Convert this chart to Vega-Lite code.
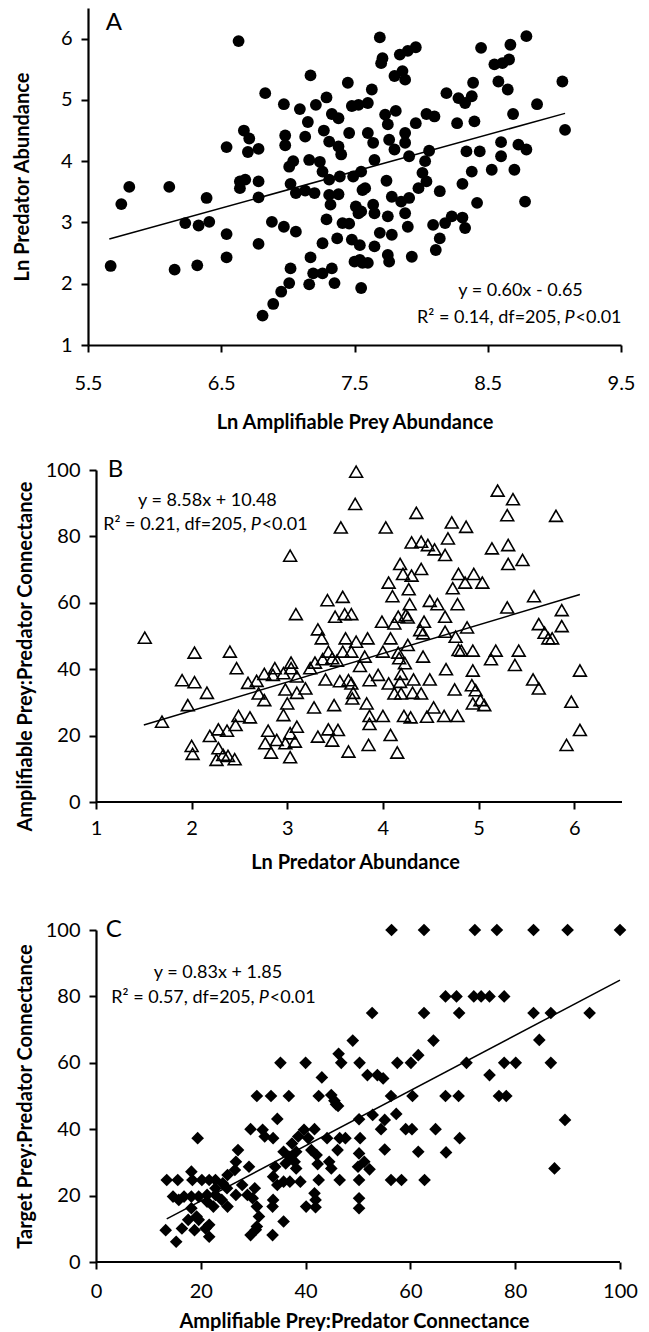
{
  "$schema": "https://vega.github.io/schema/vega-lite/v6.json",
  "background": "white",
  "padding": {"left": 12, "top": 8, "right": 4, "bottom": 0},
  "config": {
    "view": {"stroke": null},
    "font": "Lato",
    "axis": {
      "grid": false,
      "domainColor": "black",
      "domainWidth": 2.2,
      "tickColor": "black",
      "tickWidth": 2,
      "tickSize": 7,
      "labelFont": "Lato",
      "labelFontSize": 20,
      "labelColor": "black",
      "labelPadding": 9,
      "labelFlush": false,
      "labelOverlap": false,
      "titleFont": "Lato",
      "titleFontSize": 20,
      "titleFontWeight": "bold",
      "titleColor": "black",
      "titlePadding": 10
    },
    "text": {"font": "Lato", "fontSize": 18, "color": "black"}
  },
  "datasets": {
    "A": [
      {"x":6.63,"y":5.96},{"x":7.17,"y":5.40},{"x":7.45,"y":5.28},{"x":6.83,"y":5.11},{"x":6.97,"y":4.93},{"x":7.09,"y":4.85},{"x":7.21,"y":4.92},{"x":7.29,"y":5.04},{"x":7.15,"y":4.64},{"x":7.33,"y":4.77},{"x":7.38,"y":4.70},{"x":7.48,"y":4.90},{"x":7.53,"y":4.92},{"x":6.98,"y":4.42},{"x":6.98,"y":4.26},{"x":7.13,"y":4.40},{"x":7.27,"y":4.50},{"x":7.31,"y":4.32},{"x":7.38,"y":4.24},{"x":7.46,"y":4.46},{"x":7.40,"y":4.11},{"x":6.67,"y":4.50},{"x":6.71,"y":4.37},{"x":6.54,"y":4.23},{"x":6.70,"y":4.15},{"x":6.78,"y":4.20},{"x":7.04,"y":4.00},{"x":7.01,"y":3.91},{"x":7.16,"y":4.02},{"x":7.24,"y":3.99},{"x":7.26,"y":3.83},{"x":7.31,"y":3.70},{"x":7.39,"y":3.75},{"x":7.49,"y":3.75},{"x":7.55,"y":3.83},{"x":6.64,"y":3.67},{"x":6.68,"y":3.70},{"x":6.64,"y":3.56},{"x":6.78,"y":3.67},{"x":6.78,"y":3.41},{"x":7.02,"y":3.63},{"x":7.06,"y":3.48},{"x":7.13,"y":3.52},{"x":7.20,"y":3.48},{"x":7.31,"y":3.45},{"x":7.38,"y":3.46},{"x":7.32,"y":3.29},{"x":7.51,"y":3.26},{"x":7.56,"y":3.53},{"x":5.81,"y":3.58},{"x":6.11,"y":3.58},{"x":5.75,"y":3.30},{"x":6.39,"y":3.40},{"x":6.23,"y":2.99},{"x":6.33,"y":2.95},{"x":6.41,"y":3.01},{"x":6.54,"y":2.81},{"x":6.88,"y":3.01},{"x":6.97,"y":2.93},{"x":7.06,"y":2.85},{"x":7.29,"y":3.05},{"x":7.41,"y":2.99},{"x":7.46,"y":2.98},{"x":7.53,"y":3.15},{"x":6.78,"y":2.65},{"x":7.26,"y":2.66},{"x":7.37,"y":2.74},{"x":7.48,"y":2.72},{"x":5.67,"y":2.29},{"x":6.15,"y":2.23},{"x":6.32,"y":2.30},{"x":6.54,"y":2.43},{"x":7.17,"y":2.43},{"x":7.50,"y":2.36},{"x":7.56,"y":2.34},{"x":7.02,"y":2.25},{"x":7.19,"y":2.17},{"x":7.26,"y":2.17},{"x":7.33,"y":2.25},{"x":7.35,"y":2.01},{"x":7.16,"y":1.99},{"x":7.01,"y":2.01},{"x":6.95,"y":1.87},{"x":6.89,"y":1.67},{"x":6.81,"y":1.48},{"x":7.55,"y":1.93},
      {"x":7.69,"y":6.02},{"x":8.79,"y":6.04},{"x":7.71,"y":5.68},{"x":7.70,"y":5.60},{"x":7.84,"y":5.74},{"x":7.90,"y":5.80},{"x":7.96,"y":5.86},{"x":8.45,"y":5.85},{"x":8.67,"y":5.90},{"x":7.80,"y":5.39},{"x":7.86,"y":5.47},{"x":7.88,"y":5.33},{"x":8.55,"y":5.58},{"x":8.61,"y":5.60},{"x":8.66,"y":5.66},{"x":8.58,"y":5.30},{"x":8.65,"y":5.17},{"x":9.06,"y":5.30},{"x":7.63,"y":5.17},{"x":7.60,"y":4.95},{"x":8.19,"y":5.11},{"x":8.28,"y":5.03},{"x":8.33,"y":4.95},{"x":8.38,"y":5.06},{"x":8.39,"y":5.28},{"x":8.87,"y":4.93},{"x":7.81,"y":4.82},{"x":7.73,"y":4.76},{"x":7.75,"y":4.60},{"x":7.96,"y":4.62},{"x":8.04,"y":4.77},{"x":8.10,"y":4.73},{"x":8.27,"y":4.62},{"x":8.40,"y":4.65},{"x":8.69,"y":4.77},{"x":9.08,"y":4.51},{"x":7.60,"y":4.46},{"x":7.88,"y":4.46},{"x":7.76,"y":4.35},{"x":7.80,"y":4.19},{"x":7.88,"y":4.30},{"x":7.64,"y":4.30},{"x":7.65,"y":4.02},{"x":7.91,"y":4.08},{"x":8.06,"y":4.17},{"x":8.03,"y":4.00},{"x":8.34,"y":4.16},{"x":8.44,"y":4.16},{"x":8.60,"y":4.31},{"x":8.60,"y":4.08},{"x":8.73,"y":4.27},{"x":8.79,"y":4.19},{"x":8.38,"y":3.83},{"x":8.53,"y":3.86},{"x":8.70,"y":3.86},{"x":8.01,"y":3.81},{"x":8.04,"y":3.67},{"x":7.74,"y":3.68},{"x":7.58,"y":3.56},{"x":7.98,"y":3.56},{"x":8.31,"y":3.63},{"x":8.14,"y":3.51},{"x":7.78,"y":3.42},{"x":7.91,"y":3.40},{"x":7.85,"y":3.34},{"x":8.42,"y":3.32},{"x":8.78,"y":3.34},{"x":7.64,"y":3.29},{"x":7.55,"y":3.18},{"x":7.65,"y":3.15},{"x":7.75,"y":3.10},{"x":7.88,"y":3.15},{"x":8.23,"y":3.10},{"x":8.31,"y":3.08},{"x":8.18,"y":2.99},{"x":8.09,"y":2.96},{"x":8.33,"y":2.91},{"x":7.90,"y":2.93},{"x":7.69,"y":2.83},{"x":7.78,"y":2.80},{"x":8.14,"y":2.74},{"x":7.54,"y":2.63},{"x":7.65,"y":2.61},{"x":8.11,"y":2.55},{"x":7.75,"y":2.47},{"x":7.76,"y":2.36},{"x":7.93,"y":2.44},{"x":7.60,"y":2.34},{"x":7.54,"y":2.39}
    ],
    "B": [
      {"x":1.51,"y":49.5},{"x":1.69,"y":24.2},{"x":2.03,"y":45.0},{"x":1.90,"y":36.7},{"x":2.03,"y":36.1},{"x":2.16,"y":32.9},{"x":1.96,"y":29.2},{"x":2.00,"y":16.9},{"x":2.01,"y":14.5},{"x":2.19,"y":19.9},{"x":2.28,"y":21.9},{"x":2.37,"y":21.5},{"x":2.28,"y":16.2},{"x":2.26,"y":12.7},{"x":2.33,"y":14.2},{"x":2.38,"y":13.9},{"x":2.45,"y":12.9},{"x":2.40,"y":45.3},{"x":2.47,"y":40.3},{"x":2.46,"y":23.2},{"x":2.49,"y":25.9},{"x":2.61,"y":25.5},{"x":2.59,"y":35.9},{"x":2.68,"y":36.5},{"x":2.70,"y":32.7},{"x":2.76,"y":30.7},{"x":2.76,"y":38.6},{"x":2.87,"y":40.3},{"x":2.85,"y":38.3},{"x":2.80,"y":21.5},{"x":2.77,"y":17.7},{"x":2.83,"y":14.9},{"x":2.89,"y":18.7},{"x":2.96,"y":26.2},{"x":3.00,"y":29.7},{"x":2.98,"y":33.9},{"x":2.96,"y":38.8},{"x":3.04,"y":42.0},{"x":3.04,"y":40.3},{"x":3.10,"y":37.8},{"x":3.10,"y":32.9},{"x":3.03,"y":13.5},{"x":2.98,"y":17.7},{"x":3.03,"y":20.7},{"x":3.10,"y":22.7},{"x":3.08,"y":18.2},{"x":3.19,"y":34.2},{"x":3.03,"y":74.2},{"x":3.09,"y":56.6},{"x":3.28,"y":28.5},{"x":3.32,"y":19.7},{"x":3.43,"y":21.9},{"x":3.53,"y":21.7},{"x":3.47,"y":18.5},{"x":3.64,"y":15.2},{"x":3.49,"y":29.2},{"x":3.40,"y":36.9},{"x":3.55,"y":36.4},{"x":3.64,"y":36.7},{"x":3.69,"y":32.9},{"x":3.68,"y":31.2},{"x":3.67,"y":35.7},{"x":3.24,"y":40.3},{"x":3.29,"y":42.0},{"x":3.37,"y":43.0},{"x":3.47,"y":43.3},{"x":3.52,"y":42.6},{"x":3.32,"y":52.0},{"x":3.36,"y":49.3},{"x":3.43,"y":45.3},{"x":3.58,"y":45.3},{"x":3.61,"y":49.3},{"x":3.67,"y":45.3},{"x":3.72,"y":48.3},{"x":3.42,"y":60.8},{"x":3.58,"y":61.8},{"x":3.50,"y":55.8},{"x":3.60,"y":56.6},{"x":3.67,"y":56.6},{"x":3.56,"y":82.7},{"x":3.71,"y":89.8},{"x":3.72,"y":99.5},{"x":3.76,"y":41.0},
      {"x":4.03,"y":82.7},{"x":4.35,"y":87.1},{"x":5.20,"y":93.8},{"x":5.36,"y":91.2},{"x":5.30,"y":86.4},{"x":5.81,"y":86.2},{"x":4.72,"y":84.2},{"x":4.87,"y":82.9},{"x":4.30,"y":78.2},{"x":4.40,"y":78.4},{"x":4.47,"y":77.4},{"x":4.54,"y":76.1},{"x":4.65,"y":74.4},{"x":4.68,"y":79.4},{"x":5.14,"y":76.4},{"x":5.31,"y":77.4},{"x":5.31,"y":71.7},{"x":5.46,"y":72.9},{"x":4.18,"y":71.7},{"x":4.21,"y":68.7},{"x":4.30,"y":68.2},{"x":4.40,"y":70.2},{"x":4.06,"y":66.1},{"x":4.10,"y":62.0},{"x":4.27,"y":64.1},{"x":4.79,"y":68.7},{"x":4.95,"y":68.7},{"x":5.04,"y":66.1},{"x":4.86,"y":66.1},{"x":4.73,"y":64.4},{"x":5.58,"y":62.0},{"x":4.28,"y":59.6},{"x":4.49,"y":60.6},{"x":4.57,"y":59.6},{"x":4.65,"y":55.8},{"x":4.78,"y":59.6},{"x":4.24,"y":56.3},{"x":4.26,"y":55.6},{"x":4.16,"y":55.8},{"x":3.99,"y":54.3},{"x":4.12,"y":53.8},{"x":4.43,"y":54.3},{"x":4.39,"y":51.8},{"x":4.42,"y":50.8},{"x":4.65,"y":51.3},{"x":4.76,"y":49.8},{"x":4.88,"y":52.6},{"x":5.30,"y":58.6},{"x":5.87,"y":57.8},{"x":5.87,"y":53.0},{"x":5.63,"y":53.6},{"x":5.69,"y":51.0},{"x":5.73,"y":49.3},{"x":5.77,"y":49.3},{"x":3.84,"y":49.3},{"x":4.08,"y":49.3},{"x":3.81,"y":43.8},{"x":4.00,"y":45.3},{"x":4.16,"y":45.0},{"x":4.26,"y":47.3},{"x":4.23,"y":41.8},{"x":4.17,"y":43.3},{"x":4.42,"y":43.8},{"x":4.79,"y":45.8},{"x":4.82,"y":45.6},{"x":4.94,"y":45.6},{"x":5.18,"y":45.6},{"x":5.13,"y":43.0},{"x":5.42,"y":45.6},{"x":5.38,"y":41.3},{"x":3.86,"y":36.7},{"x":3.95,"y":38.3},{"x":4.06,"y":35.7},{"x":4.19,"y":38.6},{"x":4.18,"y":36.2},{"x":4.32,"y":36.9},{"x":4.49,"y":36.9},{"x":4.66,"y":40.0},{"x":4.94,"y":39.6},{"x":4.75,"y":33.9},{"x":4.93,"y":35.2},{"x":4.97,"y":33.7},{"x":5.57,"y":36.9},{"x":5.63,"y":34.2},{"x":6.06,"y":39.6},{"x":4.12,"y":32.7},{"x":4.19,"y":32.7},{"x":4.31,"y":32.9},{"x":4.40,"y":32.7},{"x":3.83,"y":29.7},{"x":4.94,"y":29.7},{"x":5.02,"y":30.7},{"x":5.06,"y":29.2},{"x":5.97,"y":30.2},{"x":3.86,"y":25.9},{"x":4.00,"y":25.9},{"x":4.22,"y":25.9},{"x":4.29,"y":25.5},{"x":4.46,"y":25.7},{"x":4.53,"y":28.5},{"x":4.64,"y":25.9},{"x":4.78,"y":25.9},{"x":3.86,"y":23.5},{"x":4.08,"y":20.2},{"x":3.85,"y":17.2},{"x":4.15,"y":14.9},{"x":5.92,"y":17.2},{"x":6.06,"y":21.7}
    ],
    "C": [
      {"x":56.4,"y":100},{"x":62.6,"y":100},{"x":72.3,"y":100},{"x":76.5,"y":100},{"x":83.5,"y":100},{"x":90.0,"y":100},{"x":100,"y":100},
      {"x":66.7,"y":80},{"x":68.8,"y":80},{"x":72.1,"y":80},{"x":73.5,"y":80},{"x":75.1,"y":80},{"x":77.9,"y":80},
      {"x":52.7,"y":75},{"x":62.6,"y":75},{"x":69.3,"y":75},{"x":83.5,"y":75},{"x":86.8,"y":75},{"x":94.2,"y":75},
      {"x":49.0,"y":66.7},{"x":64.4,"y":66.7},{"x":84.6,"y":66.9},
      {"x":50.3,"y":60},{"x":57.5,"y":60},{"x":60.1,"y":60},{"x":61.5,"y":62.3},{"x":70.7,"y":60},{"x":77.9,"y":60},{"x":80.1,"y":60},{"x":86.8,"y":60},{"x":35.2,"y":60},{"x":40.0,"y":60},{"x":46.3,"y":62.7},{"x":46.8,"y":60},
      {"x":51.8,"y":56.3},{"x":53.7,"y":56.3},{"x":54.8,"y":55.3},{"x":75.1,"y":56.3},{"x":43.1,"y":55.6},
      {"x":30.7,"y":50},{"x":33.4,"y":50},{"x":36.8,"y":50},{"x":42.5,"y":50},{"x":44.9,"y":50.3},{"x":45.8,"y":47.5},{"x":45.5,"y":48.6},{"x":46.2,"y":47.0},{"x":56.3,"y":50},{"x":60.4,"y":50},{"x":66.7,"y":50},{"x":69.2,"y":50},{"x":76.9,"y":50},{"x":78.3,"y":50},
      {"x":34.6,"y":43.1},{"x":29.5,"y":40.0},{"x":31.8,"y":39.8},{"x":32.2,"y":37.8},{"x":33.8,"y":37.3},{"x":29.2,"y":28.7},{"x":27.1,"y":33.7},{"x":26.7,"y":30.2},{"x":26.5,"y":27.7},{"x":25.1,"y":26.2},{"x":24.2,"y":23.7},{"x":22.8,"y":24.7},{"x":21.6,"y":24.7},{"x":20.2,"y":24.7},{"x":18.2,"y":27.2},{"x":18.4,"y":24.7},{"x":15.6,"y":24.7},{"x":13.5,"y":24.7},{"x":14.7,"y":19.7},{"x":15.8,"y":18.7},{"x":16.8,"y":19.7},{"x":18.2,"y":16.2},{"x":19.2,"y":13.7},{"x":19.4,"y":37.3},{"x":21.2,"y":20.2},{"x":22.8,"y":20.2},{"x":24.0,"y":18.7},{"x":21.2,"y":18.2},{"x":22.4,"y":16.7},{"x":25.1,"y":16.7},{"x":25.0,"y":22.2},{"x":26.7,"y":20.2},{"x":27.9,"y":23.2},{"x":28.9,"y":20.2},{"x":30.3,"y":22.2},{"x":29.9,"y":19.2},{"x":30.7,"y":16.7},{"x":31.1,"y":13.7},{"x":30.7,"y":10.7},{"x":29.5,"y":8.1},{"x":30.5,"y":9.7},{"x":33.7,"y":8.1},{"x":33.8,"y":18.7},{"x":33.7,"y":16.7},{"x":34.2,"y":28.7},{"x":33.8,"y":25.7},{"x":34.6,"y":23.2},{"x":35.8,"y":24.2},{"x":35.8,"y":33.2},{"x":37.0,"y":31.7},{"x":36.2,"y":29.7},{"x":37.9,"y":30.2},{"x":38.2,"y":28.2},{"x":38.2,"y":33.2},{"x":37.0,"y":24.2},{"x":39.0,"y":24.2},{"x":37.4,"y":35.7},{"x":38.6,"y":37.8},{"x":39.7,"y":39.8},{"x":41.7,"y":40.0},{"x":40.5,"y":37.3},{"x":41.1,"y":33.7},{"x":42.1,"y":32.2},{"x":42.3,"y":29.5},{"x":41.7,"y":20.7},{"x":41.9,"y":18.7},{"x":40.1,"y":16.7},{"x":41.9,"y":16.5},{"x":35.8,"y":12.2},{"x":42.5,"y":24.7},{"x":44.1,"y":37.3},{"x":44.5,"y":30.2},{"x":44.9,"y":28.2},{"x":46.1,"y":33.7},{"x":46.5,"y":37.3},{"x":46.5,"y":24.7},{"x":47.6,"y":37.3},{"x":50.4,"y":37.3},{"x":50.2,"y":32.7},{"x":50.0,"y":28.7},{"x":51.2,"y":30.2},{"x":52.2,"y":27.9},{"x":50.2,"y":24.7},{"x":50.2,"y":19.2},{"x":50.2,"y":16.2},{"x":50.2,"y":43.0},{"x":52.8,"y":44.3},{"x":54.4,"y":40.0},{"x":55.1,"y":42.8},{"x":55.1,"y":33.9},{"x":57.3,"y":44.6},{"x":56.3,"y":24.7},{"x":58.3,"y":24.7},{"x":59.1,"y":40.0},{"x":60.3,"y":40.0},{"x":61.5,"y":33.2},{"x":62.7,"y":24.7},{"x":64.8,"y":40.0},{"x":66.8,"y":33.0},{"x":69.4,"y":37.3},{"x":89.5,"y":42.8},{"x":87.5,"y":28.2},
      {"x":13.3,"y":9.6},{"x":15.3,"y":6.1},{"x":16.4,"y":10.1},{"x":17.6,"y":12.7},{"x":18.8,"y":9.6},{"x":19.6,"y":12.7},{"x":20.9,"y":10.1},{"x":21.6,"y":7.6},{"x":21.6,"y":11.2},{"x":18.2,"y":19.7},{"x":19.6,"y":19.7},{"x":22.8,"y":22.2}
    ],
    "regA": [{"x":5.66,"y":2.73},{"x":9.08,"y":4.78}],
    "regB": [{"x":1.5,"y":23.2},{"x":6.06,"y":62.5}],
    "regC": [{"x":13.5,"y":13.0},{"x":100,"y":84.9}]
  },
  "columns": 1,
  "align": "none",
  "bounds": "full",
  "spacing": 46,
  "concat": [
    {
      "columns": 1,
      "align": "none",
      "bounds": "full",
      "spacing": 26,
      "concat": [
        {
          "width": 533,
          "height": 337,
          "layer": [
            {
              "data": {"name": "A"},
              "mark": {"type": "point", "shape": "circle", "filled": true, "color": "black", "opacity": 1, "size": 140},
              "encoding": {
                "x": {"field": "x", "type": "quantitative", "title": "Ln Amplifiable Prey Abundance", "scale": {"domain": [5.5, 9.5], "nice": false, "zero": false}, "axis": {"values": [5.5, 6.5, 7.5, 8.5, 9.5], "format": ".1f", "labelPadding": 21, "titlePadding": 19}},
                "y": {"field": "y", "type": "quantitative", "title": "Ln Predator Abundance", "scale": {"domain": [1, 6.5], "nice": false, "zero": false}, "axis": {"values": [1, 2, 3, 4, 5, 6], "format": "d", "titlePadding": 28}}
              }
            },
            {
              "data": {"name": "regA"},
              "mark": {"type": "line", "color": "black", "strokeWidth": 1.5},
              "encoding": {
                "x": {"field": "x", "type": "quantitative", "title": "Ln Amplifiable Prey Abundance"},
                "y": {"field": "y", "type": "quantitative", "title": "Ln Predator Abundance"}
              }
            },
            {
              "data": {"values": [{"x": 8.746, "y": 1.882, "t": "y = 0.60x - 0.65"}]},
              "mark": {"type": "text", "align": "center", "baseline": "middle", "fontSize": 18},
              "encoding": {
                "x": {"field": "x", "type": "quantitative", "title": "Ln Amplifiable Prey Abundance"},
                "y": {"field": "y", "type": "quantitative", "title": "Ln Predator Abundance"},
                "text": {"field": "t"}
              }
            },
            {
              "data": {"values": [{"x": 9.076, "y": 1.433, "t": "R² = 0.14, df=205,"}]},
              "mark": {"type": "text", "align": "right", "baseline": "middle", "fontSize": 18, "dx": -4},
              "encoding": {
                "x": {"field": "x", "type": "quantitative", "title": "Ln Amplifiable Prey Abundance"},
                "y": {"field": "y", "type": "quantitative", "title": "Ln Predator Abundance"},
                "text": {"field": "t"}
              }
            },
            {
              "data": {"values": [{"x": 9.076, "y": 1.433, "t": "P"}]},
              "mark": {"type": "text", "align": "left", "baseline": "middle", "fontSize": 18, "fontStyle": "italic"},
              "encoding": {
                "x": {"field": "x", "type": "quantitative", "title": "Ln Amplifiable Prey Abundance"},
                "y": {"field": "y", "type": "quantitative", "title": "Ln Predator Abundance"},
                "text": {"field": "t"}
              }
            },
            {
              "data": {"values": [{"x": 9.076, "y": 1.433, "t": "<0.01"}]},
              "mark": {"type": "text", "align": "left", "baseline": "middle", "fontSize": 18, "dx": 11},
              "encoding": {
                "x": {"field": "x", "type": "quantitative", "title": "Ln Amplifiable Prey Abundance"},
                "y": {"field": "y", "type": "quantitative", "title": "Ln Predator Abundance"},
                "text": {"field": "t"}
              }
            },
            {
              "data": {"values": [{"x": 5.695, "y": 6.25, "t": "A"}]},
              "mark": {"type": "text", "align": "center", "baseline": "middle", "fontSize": 24},
              "encoding": {
                "x": {"field": "x", "type": "quantitative", "title": "Ln Amplifiable Prey Abundance"},
                "y": {"field": "y", "type": "quantitative", "title": "Ln Predator Abundance"},
                "text": {"field": "t"}
              }
            }
          ]
        },
        {
          "width": 534,
          "height": 332,
          "layer": [
            {
              "data": {"name": "B"},
              "mark": {"type": "point", "shape": "triangle-up", "filled": false, "color": "black", "fill": "white", "fillOpacity": 0, "strokeWidth": 1.6, "opacity": 1, "size": 165},
              "encoding": {
                "x": {"field": "x", "type": "quantitative", "title": "Ln Predator Abundance", "scale": {"domain": [0.9164, 6.5], "nice": false, "zero": false}, "axis": {"values": [1, 2, 3, 4, 5, 6], "format": "d", "titlePadding": 14, "domain": false}},
                "y": {"field": "y", "type": "quantitative", "title": "Amplifiable Prey:Predator Connectance", "scale": {"domain": [0, 100], "nice": false}, "axis": {"values": [0, 20, 40, 60, 80, 100], "format": "d", "titleY": 186, "titlePadding": 10, "offset": -8}}
              }
            },
            {
              "data": {"values": [{"x": 1, "x2": 6.5, "y": 0}]},
              "mark": {"type": "rule", "color": "black", "strokeWidth": 2.2},
              "encoding": {
                "x": {"field": "x", "type": "quantitative", "title": "Ln Predator Abundance"},
                "x2": {"field": "x2"},
                "y": {"field": "y", "type": "quantitative", "title": "Amplifiable Prey:Predator Connectance"}
              }
            },
            {
              "data": {"name": "regB"},
              "mark": {"type": "line", "color": "black", "strokeWidth": 1.5},
              "encoding": {
                "x": {"field": "x", "type": "quantitative", "title": "Ln Predator Abundance"},
                "y": {"field": "y", "type": "quantitative", "title": "Amplifiable Prey:Predator Connectance"}
              }
            },
            {
              "data": {"values": [{"x": 2.165, "y": 90.75, "t": "y = 8.58x + 10.48"}]},
              "mark": {"type": "text", "align": "center", "baseline": "middle", "fontSize": 18},
              "encoding": {
                "x": {"field": "x", "type": "quantitative", "title": "Ln Predator Abundance"},
                "y": {"field": "y", "type": "quantitative", "title": "Amplifiable Prey:Predator Connectance"},
                "text": {"field": "t"}
              }
            },
            {
              "data": {"values": [{"x": 2.617, "y": 83.4, "t": "R² = 0.21, df=205,"}]},
              "mark": {"type": "text", "align": "right", "baseline": "middle", "fontSize": 18, "dx": -4},
              "encoding": {
                "x": {"field": "x", "type": "quantitative", "title": "Ln Predator Abundance"},
                "y": {"field": "y", "type": "quantitative", "title": "Amplifiable Prey:Predator Connectance"},
                "text": {"field": "t"}
              }
            },
            {
              "data": {"values": [{"x": 2.617, "y": 83.4, "t": "P"}]},
              "mark": {"type": "text", "align": "left", "baseline": "middle", "fontSize": 18, "fontStyle": "italic"},
              "encoding": {
                "x": {"field": "x", "type": "quantitative", "title": "Ln Predator Abundance"},
                "y": {"field": "y", "type": "quantitative", "title": "Amplifiable Prey:Predator Connectance"},
                "text": {"field": "t"}
              }
            },
            {
              "data": {"values": [{"x": 2.617, "y": 83.4, "t": "<0.01"}]},
              "mark": {"type": "text", "align": "left", "baseline": "middle", "fontSize": 18, "dx": 11},
              "encoding": {
                "x": {"field": "x", "type": "quantitative", "title": "Ln Predator Abundance"},
                "y": {"field": "y", "type": "quantitative", "title": "Amplifiable Prey:Predator Connectance"},
                "text": {"field": "t"}
              }
            },
            {
              "data": {"values": [{"x": 1.204, "y": 100, "t": "B"}]},
              "mark": {"type": "text", "align": "center", "baseline": "middle", "fontSize": 24},
              "encoding": {
                "x": {"field": "x", "type": "quantitative", "title": "Ln Predator Abundance"},
                "y": {"field": "y", "type": "quantitative", "title": "Amplifiable Prey:Predator Connectance"},
                "text": {"field": "t"}
              }
            }
          ]
        }
      ]
    },
    {
      "width": 532,
      "height": 332,
      "layer": [
        {
          "data": {"name": "C"},
          "mark": {"type": "point", "shape": "diamond", "filled": true, "color": "black", "opacity": 1, "size": 160},
          "encoding": {
            "x": {"field": "x", "type": "quantitative", "title": "Amplifiable Prey:Predator Connectance", "scale": {"domain": [-1.527, 100], "nice": false, "zero": false}, "axis": {"values": [0, 20, 40, 60, 80, 100], "format": "d", "labelPadding": 12, "domain": false}},
            "y": {"field": "y", "type": "quantitative", "title": "Target Prey:Predator Connectance", "scale": {"domain": [0, 100], "nice": false}, "axis": {"values": [0, 20, 40, 60, 80, 100], "format": "d", "titlePadding": 10, "offset": -8}}
          }
        },
        {
          "data": {"values": [{"x": 0, "x2": 100, "y": 0}]},
          "mark": {"type": "rule", "color": "black", "strokeWidth": 2.2},
          "encoding": {
            "x": {"field": "x", "type": "quantitative", "title": "Amplifiable Prey:Predator Connectance"},
            "x2": {"field": "x2"},
            "y": {"field": "y", "type": "quantitative", "title": "Target Prey:Predator Connectance"}
          }
        },
        {
          "data": {"name": "regC"},
          "mark": {"type": "line", "color": "black", "strokeWidth": 1.5},
          "encoding": {
            "x": {"field": "x", "type": "quantitative", "title": "Amplifiable Prey:Predator Connectance"},
            "y": {"field": "y", "type": "quantitative", "title": "Target Prey:Predator Connectance"}
          }
        },
        {
          "data": {"values": [{"x": 23.28, "y": 87.0, "t": "y = 0.83x + 1.85"}]},
          "mark": {"type": "text", "align": "center", "baseline": "middle", "fontSize": 18},
          "encoding": {
            "x": {"field": "x", "type": "quantitative", "title": "Amplifiable Prey:Predator Connectance"},
            "y": {"field": "y", "type": "quantitative", "title": "Target Prey:Predator Connectance"},
            "text": {"field": "t"}
          }
        },
        {
          "data": {"values": [{"x": 31.05, "y": 79.6, "t": "R² = 0.57, df=205,"}]},
          "mark": {"type": "text", "align": "right", "baseline": "middle", "fontSize": 18, "dx": -4},
          "encoding": {
            "x": {"field": "x", "type": "quantitative", "title": "Amplifiable Prey:Predator Connectance"},
            "y": {"field": "y", "type": "quantitative", "title": "Target Prey:Predator Connectance"},
            "text": {"field": "t"}
          }
        },
        {
          "data": {"values": [{"x": 31.05, "y": 79.6, "t": "P"}]},
          "mark": {"type": "text", "align": "left", "baseline": "middle", "fontSize": 18, "fontStyle": "italic"},
          "encoding": {
            "x": {"field": "x", "type": "quantitative", "title": "Amplifiable Prey:Predator Connectance"},
            "y": {"field": "y", "type": "quantitative", "title": "Target Prey:Predator Connectance"},
            "text": {"field": "t"}
          }
        },
        {
          "data": {"values": [{"x": 31.05, "y": 79.6, "t": "<0.01"}]},
          "mark": {"type": "text", "align": "left", "baseline": "middle", "fontSize": 18, "dx": 11},
          "encoding": {
            "x": {"field": "x", "type": "quantitative", "title": "Amplifiable Prey:Predator Connectance"},
            "y": {"field": "y", "type": "quantitative", "title": "Target Prey:Predator Connectance"},
            "text": {"field": "t"}
          }
        },
        {
          "data": {"values": [{"x": 3.4, "y": 100, "t": "C"}]},
          "mark": {"type": "text", "align": "center", "baseline": "middle", "fontSize": 24},
          "encoding": {
            "x": {"field": "x", "type": "quantitative", "title": "Amplifiable Prey:Predator Connectance"},
            "y": {"field": "y", "type": "quantitative", "title": "Target Prey:Predator Connectance"},
            "text": {"field": "t"}
          }
        }
      ]
    }
  ]
}
